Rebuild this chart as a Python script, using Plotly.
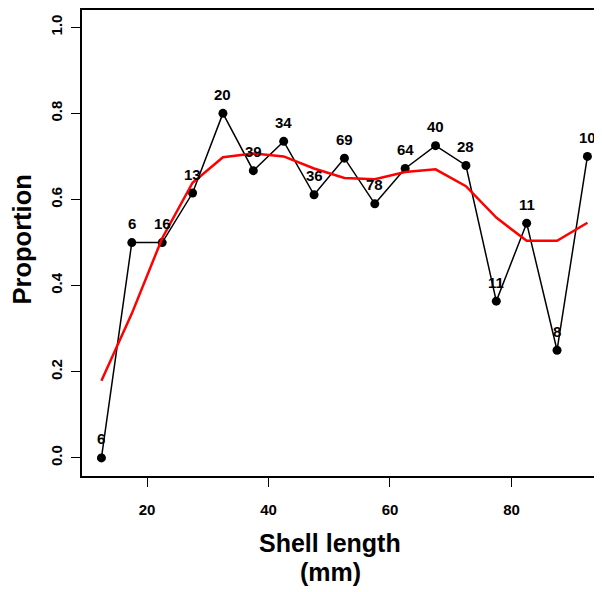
import plotly.graph_objects as go

shell_length = [12.5, 17.5, 22.5, 27.5, 32.5, 37.5, 42.5, 47.5, 52.5, 57.5,
                62.5, 67.5, 72.5, 77.5, 82.5, 87.5, 92.5]
proportion = [0.0, 0.5, 0.5, 0.615, 0.8, 0.667, 0.735, 0.611, 0.696, 0.590,
              0.672, 0.725, 0.679, 0.364, 0.545, 0.25, 0.70]
sample_n = [6, 6, 16, 13, 20, 39, 34, 36, 69, 78, 64, 40, 28, 11, 11, 8, 10]
smooth = [0.179, 0.335, 0.510, 0.639, 0.698, 0.707, 0.700, 0.672, 0.650, 0.647,
          0.664, 0.670, 0.631, 0.558, 0.504, 0.504, 0.546]

x_ticks = [20, 40, 60, 80]
y_ticks = [0.0, 0.2, 0.4, 0.6, 0.8, 1.0]
x_title_lines = ["Shell length", "(mm)"]
y_title = "Proportion"

FONT = "Liberation Sans, Arial, sans-serif"

fig = go.Figure()
fig.add_trace(go.Scatter(x=shell_length, y=proportion, mode="lines+markers",
                         line=dict(color="black", width=1.5),
                         marker=dict(color="black", size=9),
                         showlegend=False, hoverinfo="skip"))
fig.add_trace(go.Scatter(x=shell_length, y=smooth, mode="lines",
                         line=dict(color="#ff0000", width=2.5),
                         showlegend=False, hoverinfo="skip"))

for xv, yv, n in zip(shell_length, proportion, sample_n):
    fig.add_annotation(x=xv, y=yv, text=str(n), showarrow=False, yshift=19,
                       font=dict(family=FONT, size=15, color="black", weight="bold"))

for line_text, ypos in zip(x_title_lines, [-0.143, -0.207]):
    fig.add_annotation(xref="paper", yref="paper", x=0.477, y=ypos, yanchor="middle",
                       text=line_text, showarrow=False,
                       font=dict(family=FONT, size=25, color="black", weight="bold"))
fig.add_annotation(xref="paper", yref="paper", x=-0.115, y=0.508, xanchor="center",
                   yanchor="middle", text=y_title, textangle=-90, showarrow=False,
                   font=dict(family=FONT, size=25.5, color="black", weight="bold"))

# page body adds an 8px offset, so the figure is sized/offset to compensate
fig.update_layout(
    width=594, height=584,
    margin=dict(l=74, r=0, t=0, b=116),
    plot_bgcolor="white", paper_bgcolor="white",
    font=dict(family=FONT, color="black"),
)
fig.update_xaxes(range=[9.3, 94.9], tickvals=x_ticks, showgrid=False, zeroline=False,
                 showline=True, linecolor="black", linewidth=2, mirror=True,
                 ticks="outside", ticklen=9, tickwidth=1.2, tickcolor="black",
                 ticklabelstandoff=10,
                 tickfont=dict(family=FONT, size=15, color="black", weight="bold"))
fig.update_yaxes(range=[-0.042, 1.040], tickvals=y_ticks, tickformat=".1f",
                 showgrid=False, zeroline=False,
                 showline=True, linecolor="black", linewidth=2, mirror=False,
                 ticks="outside", ticklen=9, tickwidth=1.2, tickcolor="black",
                 tickangle=-90, ticklabelstandoff=3,
                 tickfont=dict(family=FONT, size=15, color="black", weight="bold"))

fig.write_html("out.html")
